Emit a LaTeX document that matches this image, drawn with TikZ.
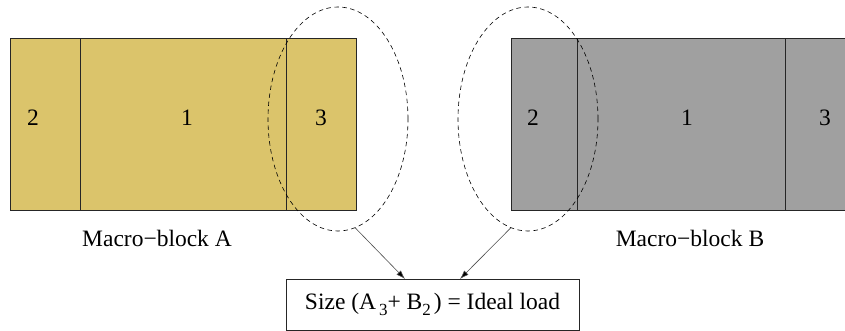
\documentclass[tikz,border=0pt]{standalone}
\usepackage{fontspec}
\setmainfont{Liberation Serif}
\usetikzlibrary{shapes.geometric,arrows.meta}
\definecolor{gold}{RGB}{219,196,107}
\definecolor{grayb}{RGB}{160,160,160}
\begin{document}
\begin{tikzpicture}[x=1pt,y=-1pt,
  part/.style={draw=black!85,line width=0.9pt,inner sep=0pt,minimum height=172pt},
  num/.style={font=\fontsize{23.5}{28}\selectfont,inner sep=0pt},
  oval/.style={ellipse,draw,dash pattern=on 4.5pt off 3.5pt,line width=0.6pt,minimum width=140pt,minimum height=224pt,inner sep=0pt},
  link/.style={draw=black!70,line width=0.6pt,-{Latex[length=9pt,width=6pt,fill=black]}},
  lbl/.style={font=\fontsize{23.5}{28}\selectfont,inner sep=0pt}]
\useasboundingbox (0,0) rectangle (845,331);
% block A
\node[part,fill=gold,minimum width=70pt] (a2) at (45,124) {};
\node[part,fill=gold,minimum width=206pt] (a1) at (183,124) {};
\node[part,fill=gold,minimum width=70pt] (a3) at (321,124) {};
\node[num] (na2) at (33,118) {2};
\node[num] (na1) at (187,118) {1};
\node[num] (na3) at (321,118) {3};
% block B
\node[part,fill=grayb,minimum width=66pt] (b2) at (544,124) {};
\node[part,fill=grayb,minimum width=208pt] (b1) at (681,124) {};
\fill[grayb] (785,38) rectangle (846,210);
\draw[black!85,line width=0.9pt] (846,38) -- (785,38) -- (785,210) -- (846,210);
\node[num] (nb2) at (533,118) {2};
\node[num] (nb1) at (687,118) {1};
\node[num] (nb3) at (825,118) {3};
% labels
\node[lbl] (la) at (157,238) {Macro\textminus block A};
\node[lbl] (lb) at (690,238) {Macro\textminus block B};
% ellipses
\node[oval] (ea) at (338,119) {};
\node[oval] (eb) at (528,119) {};
% result box
\node[draw=black!85,line width=0.8pt,minimum width=293pt,minimum height=51pt,inner sep=0pt,font=\fontsize{23.5}{28}\selectfont] (box) at (432.5,304.5) {Size (A\hspace{3pt}\raisebox{-0.55ex}{\fontsize{17}{18}\selectfont 3}+ B\raisebox{-0.55ex}{\fontsize{17}{18}\selectfont 2}\hspace{3pt}) = Ideal load};
\coordinate (ta) at (405,279);
\coordinate (tb) at (460,279);
\draw[link] (ea.-81) -- (ta);
\draw[link] (eb.-99) -- (tb);
\end{tikzpicture}
\end{document}
